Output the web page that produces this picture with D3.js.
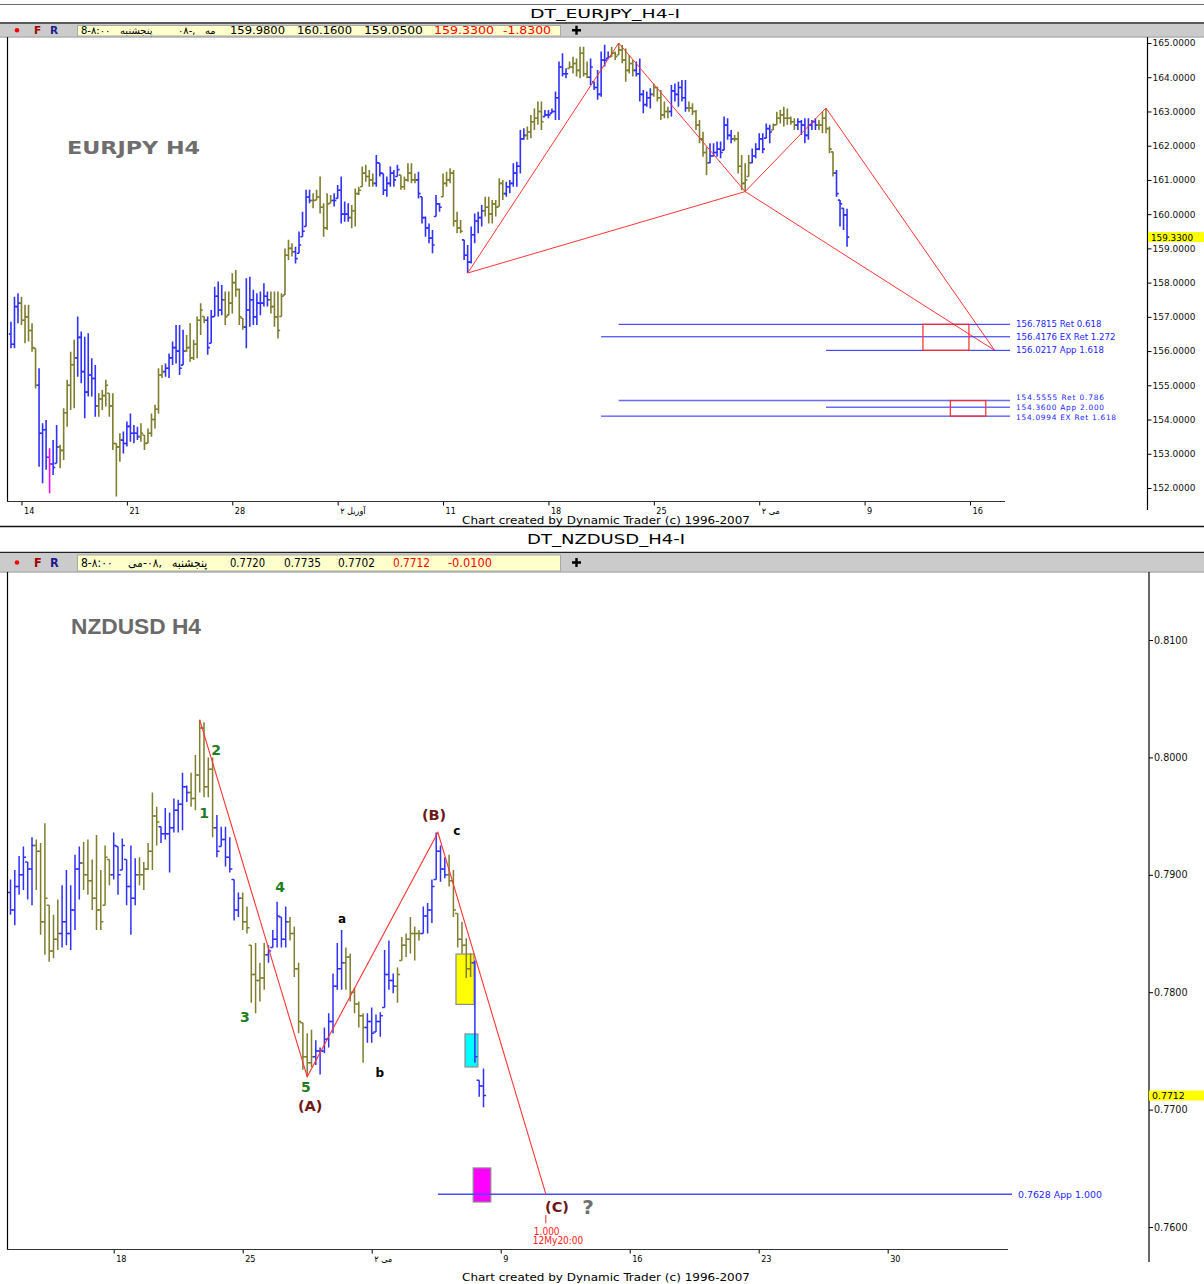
<!DOCTYPE html>
<html>
<head>
<meta charset="utf-8">
<script src="https://cdn.jsdelivr.net/npm/d3@7"></script>
<style>
  body { margin: 0; background: #fff; }
  svg { display: block; }
</style>
</head>
<body>
<script>
// ---------- EURJPY H4 (top panel) ----------
// bar colour codes: o = olive, b = blue, m = magenta
const eurColors = ('bbbooooobb bmbbooooob bbbbbooooo oobbbbbooo oooobbbbbb oooooobbbb boooooobbb bbbboooooo ' +
  'obbbbboooo oobbbbbooo oooobbbbbb booooobbbb bbboooooob bbbbbooooo obbbbbbooo oobbbbbbbo ooooobbbbb ' +
  'booooooobb bbbooooobb bbboooooob bbbbbboooo obbbbbbooo oooobbbbbb ooooobbbb').replace(/ /g, '');
const eurHigh = [
  156.86,157.59,157.69,157.59,157.35,157.35,156.81,156.08,155.50,153.89,
  153.99,153.16,153.40,153.84,153.26,154.33,155.16,155.98,156.33,157.01,
  156.57,156.42,156.52,155.79,155.59,154.77,154.86,155.16,154.77,154.77,
  153.31,153.60,153.65,153.94,154.18,153.84,153.79,153.89,153.55,153.74,
  154.18,154.43,155.50,155.59,155.64,155.93,156.28,156.76,156.76,156.62,
  156.47,156.81,156.33,157.01,157.40,157.01,157.01,157.20,157.88,158.03,
  157.93,157.74,157.74,158.27,158.37,157.83,156.96,158.13,158.17,157.79,
  157.69,157.74,157.98,157.74,157.74,157.74,157.74,157.69,159.00,159.25,
  159.15,159.05,159.49,160.07,160.71,160.71,160.61,160.71,161.10,160.32,
  160.61,160.56,160.61,160.85,161.10,160.37,160.32,160.27,160.75,160.80,
  161.39,161.44,161.29,161.19,161.73,161.49,161.19,161.10,161.39,161.29,
  161.44,161.14,161.10,161.49,161.49,161.19,161.24,160.51,159.93,159.73,
  159.54,160.56,160.32,161.19,161.24,161.34,161.29,160.07,159.83,159.25,
  159.10,159.64,160.02,160.07,160.27,160.51,160.51,160.41,160.41,161.05,
  161.00,160.95,161.00,161.49,161.53,162.46,162.51,162.56,162.90,163.09,
  163.29,163.29,163.04,163.04,163.09,163.58,164.46,164.70,164.26,164.46,
  164.60,164.55,164.89,164.89,164.46,164.55,163.87,164.21,164.75,164.95,
  164.75,164.89,164.75,165.00,164.94,164.84,164.65,164.50,164.46,164.55,
  163.63,163.58,163.68,163.82,163.72,163.63,163.29,163.14,163.77,163.82,
  163.87,163.92,163.92,163.29,163.24,163.04,162.75,162.41,161.97,162.07,
  162.07,162.12,162.12,162.85,162.80,162.46,162.31,162.41,161.73,161.49,
  161.73,161.92,162.07,162.36,162.36,162.65,162.61,162.65,162.99,163.04,
  163.14,163.09,162.85,162.80,162.80,162.75,162.80,162.80,162.75,162.80,
  162.75,162.99,163.10,162.56,161.82,161.29,160.41,160.17,160.16];
const eurLow = [
  156.08,156.08,156.81,156.76,156.23,156.28,155.98,154.91,152.62,152.14,
  152.53,151.85,152.38,152.72,152.58,152.82,153.79,154.28,154.33,155.25,
  155.06,154.04,154.67,154.67,154.08,154.08,154.28,154.38,154.08,153.11,
  151.75,152.77,153.01,153.21,153.35,153.31,153.40,153.35,153.11,153.31,
  153.50,153.74,154.18,155.21,155.25,155.21,155.59,155.64,155.30,155.59,
  155.98,155.69,155.74,155.79,156.47,156.81,155.89,156.23,157.01,157.01,
  157.05,156.76,157.05,157.10,157.59,156.76,156.62,156.08,156.71,156.76,
  156.76,157.05,157.30,157.30,157.10,156.71,156.37,157.01,157.64,158.66,
  158.76,158.56,158.86,159.34,159.64,160.32,160.17,160.41,160.02,159.34,
  159.54,160.32,160.22,160.46,159.73,159.78,159.78,159.59,159.64,160.56,
  160.80,160.95,160.80,160.80,160.80,161.10,160.56,160.51,160.80,160.80,
  161.10,160.71,160.71,160.95,160.90,160.90,160.46,159.73,159.34,159.15,
  158.86,159.93,160.07,160.51,160.80,160.90,159.64,159.44,159.44,158.66,
  158.28,158.56,159.15,159.44,159.64,159.93,159.73,159.73,159.93,160.22,
  160.41,160.51,160.61,160.80,160.80,161.19,162.17,162.17,162.22,162.46,
  162.61,162.46,162.85,162.80,162.95,162.75,162.75,164.02,163.97,164.26,
  164.11,164.02,163.97,164.02,163.97,163.77,163.63,163.34,163.43,164.31,
  164.55,164.60,164.50,164.65,164.41,163.87,164.11,164.02,164.02,163.29,
  162.95,163.14,163.09,163.43,163.29,162.75,162.80,162.80,162.85,163.29,
  163.14,163.29,162.99,162.99,162.90,162.46,162.07,161.68,161.14,161.49,
  161.68,161.68,161.63,161.87,162.17,162.07,162.12,161.19,160.70,160.66,
  161.10,161.49,161.63,161.87,161.78,162.22,162.07,162.46,162.61,162.65,
  162.56,162.61,162.61,162.46,162.46,162.31,162.07,162.17,162.46,162.46,
  162.46,162.36,162.36,161.78,161.10,160.51,159.64,159.54,159.05];
const eurClose = [
  156.2,157.3,157.4,156.9,157.0,156.6,156.1,155.0,153.6,153.7,
  152.9,152.7,152.6,153.2,153.1,154.2,155.0,155.6,155.8,156.4,
  155.4,154.8,155.3,155.2,154.4,154.6,154.7,155.0,154.4,153.3,
  153.2,153.4,153.3,153.8,153.6,153.6,153.5,153.6,153.3,153.6,
  154.0,154.3,155.3,155.4,155.5,155.8,156.1,156.0,155.5,156.0,
  156.1,155.8,156.2,156.9,157.2,156.9,156.1,157.0,157.6,157.2,
  157.5,157.0,157.4,158.0,157.8,157.0,156.7,157.2,157.5,157.0,
  157.4,157.4,157.6,157.5,157.3,157.0,156.6,157.6,158.8,159.0,
  158.9,158.7,159.1,159.5,160.5,160.4,160.4,160.5,160.2,159.6,
  160.3,160.4,160.4,160.7,160.0,160.0,159.9,160.1,160.6,160.7,
  161.2,161.1,161.0,160.9,161.5,161.2,160.7,160.9,161.2,161.0,
  161.3,160.8,161.0,161.2,161.0,161.0,160.6,159.9,159.6,159.3,
  159.1,160.3,160.2,160.9,161.0,161.2,159.8,159.6,159.5,158.8,
  158.6,159.4,159.8,159.9,160.1,160.2,160.0,160.3,160.2,160.9,
  160.6,160.8,160.9,161.2,161.4,162.2,162.3,162.4,162.7,162.8,
  163.0,162.7,162.9,162.9,163.0,163.4,164.3,164.1,164.1,164.3,
  164.4,164.2,164.7,164.1,164.0,164.3,163.7,163.5,164.5,164.5,
  164.6,164.7,164.6,164.8,164.5,164.2,164.4,164.2,164.1,163.5,
  163.2,163.4,163.5,163.7,163.4,162.9,163.0,163.0,163.6,163.5,
  163.7,163.4,163.1,163.1,163.0,162.6,162.2,161.8,161.5,161.7,
  161.8,161.9,161.8,162.6,162.3,162.2,162.2,161.4,160.9,161.0,
  161.5,161.7,161.9,162.2,161.9,162.5,162.4,162.6,162.8,162.9,
  162.8,162.8,162.7,162.6,162.7,162.6,162.3,162.6,162.7,162.6,
  162.6,162.8,162.5,161.9,161.2,160.6,160.3,159.98,159.33];
const eurFirstOpen = 156.5;
const eurTickIdx = [3, 33, 63, 93, 123, 153, 183, 213, 243, 273];
const eurTickLabels = ['14', '21', '28', 'آوریل ۲', '11', '18', '25', 'مى ۲', '9', '16'];
const eurYTicks = d3.range(152, 166);
const eurQuote = ['159.9800', '160.1600', '159.0500', '159.3300', '-1.8300'];
const eurLast = 159.33;
// X, A, B, C, D pivots (bar index, price)
const eurPivotIdx = [130, 173, 209, 232, 280];
const eurPivotVal = [158.28, 165.00, 160.66, 163.10, 156.0217];
const eurLegs = [[0, 1], [1, 2], [0, 2], [2, 3], [3, 4], [2, 4]];
const eurLevels = [156.7815, 156.4176, 156.0217, 154.5555, 154.3600, 154.0994];
const eurLevelText = ['156.7815 Ret 0.618', '156.4176 EX Ret 1.272', '156.0217 App 1.618',
  '154.5555 Ret 0.786', '154.3600 App 2.000', '154.0994 EX Ret 1.618'];
const eurLevelFrom = [173, 168, 232, 173, 232, 168];
const eurLevelTo = 284.4;
const eurBoxFrom = [259.6, 267.4];
const eurBoxTo = [272.7, 277.5];
const eurBoxHi = [156.7815, 154.5555];
const eurBoxLo = [156.0217, 154.0994];

// ---------- NZDUSD H4 (bottom panel) ----------
const nzdColors = ('bbbbbboooo oobbbbbooo oooobbbbbb ooooobbbbb bboooooobb bbbboooooo bbbbbooooo ' +
  'obbbbbbboo ooobbbbbbb oooooobbbb bboooooobbb').replace(/ /g, '');
const nzdHigh = [
  0.7896,0.7904,0.7916,0.7924,0.7911,0.7932,0.7930,0.7927,0.7944,0.7874,
  0.7866,0.7879,0.7891,0.7904,0.7891,0.7917,0.7924,0.7928,0.7930,0.7913,
  0.7934,0.7904,0.7925,0.7913,0.7936,0.7924,0.7931,0.7913,0.7925,0.7914,
  0.7915,0.7911,0.7927,0.7970,0.7958,0.7941,0.7957,0.7953,0.7965,0.7964,
  0.7987,0.7976,0.7987,0.8002,0.8032,0.8030,0.8000,0.8000,0.7951,0.7941,
  0.7941,0.7932,0.7896,0.7885,0.7885,0.7873,0.7840,0.7842,0.7825,0.7842,
  0.7840,0.7853,0.7877,0.7864,0.7873,0.7864,0.7856,0.7825,0.7774,0.7765,
  0.7768,0.7759,0.7753,0.7770,0.7782,0.7816,0.7842,0.7853,0.7838,0.7833,
  0.7804,0.7792,0.7782,0.7782,0.7787,0.7781,0.7783,0.7836,0.7844,0.7816,
  0.7821,0.7847,0.7850,0.7864,0.7856,0.7853,0.7873,0.7876,0.7896,0.7936,
  0.7925,0.7915,0.7917,0.7904,0.7867,0.7860,0.7846,0.7833,0.7827,0.7725,0.7735];
const nzdLow = [
  0.7866,0.7857,0.7883,0.7887,0.7879,0.7874,0.7887,0.7849,0.7832,0.7826,
  0.7829,0.7836,0.7838,0.7840,0.7836,0.7853,0.7879,0.7887,0.7883,0.7870,
  0.7853,0.7853,0.7874,0.7891,0.7896,0.7883,0.7904,0.7874,0.7849,0.7874,
  0.7891,0.7887,0.7904,0.7904,0.7925,0.7927,0.7930,0.7902,0.7936,0.7936,
  0.7938,0.7962,0.7958,0.7955,0.7970,0.7966,0.7966,0.7932,0.7915,0.7924,
  0.7907,0.7902,0.7861,0.7864,0.7853,0.7850,0.7791,0.7782,0.7792,0.7802,
  0.7825,0.7838,0.7838,0.7838,0.7838,0.7844,0.7813,0.7765,0.7734,0.7728,
  0.7736,0.7738,0.7730,0.7748,0.7753,0.7765,0.7802,0.7802,0.7802,0.7792,
  0.7782,0.7770,0.7740,0.7757,0.7757,0.7766,0.7762,0.7787,0.7802,0.7799,
  0.7791,0.7827,0.7830,0.7833,0.7827,0.7844,0.7850,0.7850,0.7859,0.7896,
  0.7894,0.7897,0.7890,0.7864,0.7838,0.7833,0.7812,0.7813,0.7740,0.7711,0.7702];
const nzdClose = [
  0.7870,0.7890,0.7900,0.7915,0.7905,0.7925,0.7920,0.7860,0.7880,0.7835,
  0.7845,0.7850,0.7860,0.7850,0.7870,0.7905,0.7910,0.7900,0.7895,0.7880,
  0.7870,0.7860,0.7915,0.7900,0.7925,0.7900,0.7925,0.7890,0.7880,0.7900,
  0.7900,0.7905,0.7920,0.7950,0.7945,0.7935,0.7935,0.7940,0.7955,0.7960,
  0.7975,0.7970,0.7965,0.7985,0.8025,0.7975,0.7990,0.7940,0.7920,0.7930,
  0.7915,0.7905,0.7870,0.7880,0.7860,0.7855,0.7815,0.7810,0.7812,0.7832,
  0.7835,0.7845,0.7865,0.7845,0.7860,0.7850,0.7820,0.7775,0.7745,0.7740,
  0.7745,0.7750,0.7750,0.7760,0.7775,0.7805,0.7820,0.7825,0.7830,0.7800,
  0.7790,0.7780,0.7770,0.7775,0.7765,0.7775,0.7780,0.7815,0.7810,0.7805,
  0.7815,0.7840,0.7845,0.7850,0.7850,0.7850,0.7865,0.7870,0.7890,0.7920,
  0.7905,0.7900,0.7895,0.7870,0.7845,0.7840,0.7820,0.7825,0.7745,0.7720,0.7712];
const nzdFirstOpen = 0.7885;
const nzdTickIdx = [24, 54, 84, 114, 144, 174, 204];
const nzdTickLabels = ['18', '25', 'مى ۲', '9', '16', '23', '30'];
const nzdYTicks = [0.76, 0.77, 0.78, 0.79, 0.80, 0.81];
const nzdQuote = ['0.7720', '0.7735', '0.7702', '0.7712', '-0.0100'];
const nzdLast = 0.7712;
const nzdPivotIdx = [44, 69, 99.4, 124.5];
const nzdPivotVal = [0.8032, 0.7728, 0.7936, 0.7628];
const nzdLevel = 0.7628;
const nzdLevelText = '0.7628 App 1.000';
const nzdLevelFrom = 99.4;
const nzdLevelTo = 232.9;
const nzdBoxFrom = [103.6, 105.7, 107.6];
const nzdBoxTo = [107.8, 108.7, 111.7];
const nzdBoxHi = [0.78325, 0.77644, 0.76503];
const nzdBoxLo = [0.77896, 0.77363, 0.76213];
const nzdBoxFill = ['#ffff00', '#00ffff', '#ff00ff'];
const nzdWaveText = ['1', '2', '3', '4', '5', '(A)', '(B)', '(C)', 'a', 'b', 'c', '?'];
const nzdWaveIdx = [45.0, 47.8, 54.5, 62.7, 68.7, 69.7, 98.5, 127.1, 77.1, 85.9, 103.8, 134.3];
const nzdWaveVal = [0.79526, 0.80063, 0.77789, 0.78896, 0.77192, 0.77031, 0.79509, 0.76170, 0.78624, 0.77312, 0.79373, 0.76170];
const nzdWaveKind = ['g', 'g', 'g', 'g', 'g', 'r', 'r', 'r', 'k', 'k', 'k', 'q'];

// ---------- drawing ----------
const FONT = '"DejaVu Sans", Verdana, sans-serif';
const NARROW = '"DejaVu Sans Condensed", "Liberation Sans Narrow", "Liberation Sans", sans-serif';
const barColor = { o: '#7e7e2e', b: '#3030ff', m: '#ff00ff' };

const svg = d3.select('body').append('svg').attr('width', 1204).attr('height', 1284);

function hline(x1, x2, y, stroke, w) {
  svg.append('line').attr('x1', x1).attr('x2', x2).attr('y1', y).attr('y2', y)
    .attr('stroke', stroke).attr('stroke-width', w || 1);
}
function vline(x, y1, y2, stroke, w) {
  svg.append('line').attr('x1', x).attr('x2', x).attr('y1', y1).attr('y2', y2)
    .attr('stroke', stroke).attr('stroke-width', w || 1);
}

function toolbar(y0, h, quote, quoteX, quoteW, datePieces, font, size) {
  const cy = y0 + h / 2;
  svg.append('rect').attr('x', 0).attr('y', y0).attr('width', 1204).attr('height', h).attr('fill', '#cbcbcb');
  hline(0, 1204, y0 + h + 0.5, '#8a8a8a');
  svg.append('circle').attr('cx', 17).attr('cy', cy).attr('r', 2.3).attr('fill', '#ff0000');
  svg.append('text').attr('x', 34).attr('y', cy + size * 0.36).text('F')
    .attr('font-family', font).attr('font-size', size).attr('font-weight', 'bold').attr('fill', '#a00000');
  svg.append('text').attr('x', 50).attr('y', cy + size * 0.36).text('R')
    .attr('font-family', font).attr('font-size', size).attr('font-weight', 'bold').attr('fill', '#1c1c8c');
  svg.append('rect').attr('x', 77.5).attr('y', y0 + 1.5).attr('width', 483).attr('height', h - 2)
    .attr('fill', '#ffffcc').attr('stroke', '#a8a8a8');
  datePieces.forEach(p => {
    svg.append('text').attr('x', p[1]).attr('y', cy + size * 0.36).text(p[0])
      .attr('font-family', font).attr('font-size', size - 0.5).attr('fill', '#000');
  });
  quote.forEach((q, i) => {
    svg.append('text').attr('x', quoteX[i]).attr('y', cy + size * 0.36).text(q)
      .attr('font-family', font).attr('font-size', size)
      .attr('textLength', quoteW[i]).attr('lengthAdjust', 'spacingAndGlyphs')
      .attr('fill', i >= 3 ? '#ff0000' : '#000');
  });
  svg.append('path').attr('d', `M572,${cy}H581M576.5,${cy - 4.5}V${cy + 4.5}`)
    .attr('stroke', '#000').attr('stroke-width', 2.4);
}

function drawBars(x, y, hi, lo, cl, cols, firstOpen, tick, sw) {
  const bars = hi.map((h, i) => {
    const prev = i ? cl[i - 1] : firstOpen;
    return { i, h, l: lo[i], c: cl[i], o: Math.max(lo[i], Math.min(h, prev)), col: cols[i] };
  });
  svg.append('g').selectAll('path').data(bars).join('path')
    .attr('d', d => {
      const xx = x(d.i);
      return `M${xx},${y(d.h)}V${y(d.l)}M${xx - tick},${y(d.o)}H${xx}M${xx},${y(d.c)}H${xx + tick}`;
    })
    .attr('fill', 'none')
    .attr('stroke', d => barColor[d.col])
    .attr('stroke-width', sw);
}

function yAxis(xPos, scale, ticks, fmt, size, y1, y2) {
  const g = svg.append('g').attr('transform', `translate(${xPos},0)`)
    .call(d3.axisRight(scale).tickValues(ticks).tickSize(4).tickPadding(1).tickFormat(fmt));
  g.select('.domain').remove();
  g.selectAll('line').attr('stroke', '#000');
  g.selectAll('text').attr('font-family', FONT).attr('font-size', size).attr('fill', '#111');
  vline(xPos, y1, y2, '#000', 1.2);
}

function xAxis(yPos, scale, ticks, labels, x1, x2) {
  const g = svg.append('g').attr('transform', `translate(0,${yPos})`)
    .call(d3.axisBottom(scale).tickValues(ticks).tickSize(4).tickPadding(2)
      .tickFormat((d, i) => labels[i]));
  g.select('.domain').remove();
  g.selectAll('line').attr('stroke', '#000');
  g.selectAll('text').attr('text-anchor', 'start').attr('dx', 2)
    .attr('font-family', NARROW).attr('font-size', 9).attr('fill', '#000');
  hline(x1, x2, yPos, '#333', 1.2);
}

function priceFlag(xPos, y, label, size) {
  svg.append('rect').attr('x', xPos).attr('y', y - 5).attr('width', 1204 - xPos).attr('height', 10).attr('fill', '#ffff00');
  svg.append('text').attr('x', xPos + 3).attr('y', y + 3.5).text(label)
    .attr('font-family', FONT).attr('font-size', size).attr('fill', '#000');
}

// ===== top panel =====
const xE = d3.scaleLinear().domain([3, 273]).range([21.5, 970]);
const yE = d3.scaleLinear().domain([152, 165]).range([488, 43]);

hline(0, 1204, 4.5, '#6a6a6a');
svg.append('text').attr('x', 605).attr('y', 18).attr('text-anchor', 'middle').text('DT_EURJPY_H4-I')
  .attr('font-family', FONT).attr('font-size', 13).attr('fill', '#000')
  .attr('textLength', 150).attr('lengthAdjust', 'spacingAndGlyphs');
hline(0, 1204, 23, '#222', 1.5);
toolbar(24, 12.5, eurQuote, [230, 297, 364, 434, 503], [55, 55, 59, 60, 48],
  [['8-۸:۰۰', 81], ['پنجشنبه', 120], ['۰۸-,', 178], ['مه', 205]], FONT, 10.5);

vline(7.5, 37, 501, '#000', 1.2);
yAxis(1147.5, yE, eurYTicks, d3.format('.4f'), 9, 37, 510);
xAxis(501.5, xE, eurTickIdx, eurTickLabels, 7, 1005);

svg.append('text').attr('x', 67).attr('y', 154).text('EURJPY  H4')
  .attr('font-family', FONT).attr('font-weight', 'bold').attr('font-size', 17).attr('fill', '#6e6e6e')
  .attr('textLength', 133).attr('lengthAdjust', 'spacingAndGlyphs');

drawBars(xE, yE, eurHigh, eurLow, eurClose, eurColors, eurFirstOpen, 2.2, 1.6);

// pattern legs
eurLegs.forEach(([a, b]) => {
  svg.append('line')
    .attr('x1', xE(eurPivotIdx[a])).attr('y1', yE(eurPivotVal[a]))
    .attr('x2', xE(eurPivotIdx[b])).attr('y2', yE(eurPivotVal[b]))
    .attr('stroke', '#ff3535').attr('stroke-width', 1);
});

// projection levels; the three crowded lower labels are made smaller and spread a little
const levelNudge = [0, 0, 0, -3.2, -0.8, 0.6];
eurLevels.forEach((v, i) => {
  const light = i === 3 || i === 4;
  const small = i >= 3;
  hline(xE(eurLevelFrom[i]), xE(eurLevelTo), yE(v), light ? '#6a6aff' : '#2424ff', light ? 1.4 : 1);
  svg.append('text').attr('x', xE(eurLevelTo) + 6).attr('y', yE(v) + 3.1 + levelNudge[i]).text(eurLevelText[i])
    .attr('font-family', FONT).attr('font-size', small ? 7.4 : 8.6).attr('fill', '#2424ff')
    .attr('textLength', small ? (i === 5 ? 100 : 88) : null);
});
eurBoxFrom.forEach((f, i) => {
  svg.append('rect').attr('x', xE(f)).attr('y', yE(eurBoxHi[i]))
    .attr('width', xE(eurBoxTo[i]) - xE(f)).attr('height', yE(eurBoxLo[i]) - yE(eurBoxHi[i]))
    .attr('fill', 'none').attr('stroke', '#ff2a2a').attr('stroke-width', 1.2);
});

priceFlag(1148, yE(eurLast), eurLast.toFixed(4), 8.8);

svg.append('text').attr('x', 462).attr('y', 524).text('Chart created by Dynamic Trader  (c) 1996-2007')
  .attr('font-family', NARROW).attr('font-size', 10).attr('fill', '#000')
  .attr('textLength', 288).attr('lengthAdjust', 'spacingAndGlyphs');

// ===== bottom panel =====
const xN = d3.scaleLinear().domain([24, 204]).range([113.7, 887.7]);
const yN = d3.scaleLinear().domain([0.76, 0.81]).range([1227, 640]);

hline(0, 1204, 526.5, '#111', 1.6);
svg.append('text').attr('x', 606).attr('y', 544).attr('text-anchor', 'middle').text('DT_NZDUSD_H4-I')
  .attr('font-family', FONT).attr('font-size', 14.5).attr('fill', '#000')
  .attr('textLength', 158).attr('lengthAdjust', 'spacingAndGlyphs');
hline(0, 1204, 552.5, '#222', 1.5);
toolbar(553.5, 18, nzdQuote, [230, 284, 338, 393, 448], [35, 37, 37, 37, 44],
  [['8-۸:۰۰', 81], ['مى', 128], ['-۰۸,', 143], ['پنجشنبه', 172]], NARROW, 12.5);

vline(7.5, 572, 1250, '#000', 1.2);
yAxis(1149, yN, nzdYTicks, d3.format('.4f'), 9.6, 572, 1262);
xAxis(1249.5, xN, nzdTickIdx, nzdTickLabels, 7, 1008);

svg.append('text').attr('x', 71).attr('y', 634).text('NZDUSD H4')
  .attr('font-family', '"Liberation Sans", Arial, sans-serif').attr('font-weight', 'bold')
  .attr('font-size', 22).attr('fill', '#6a6a6a')
  .attr('textLength', 130).attr('lengthAdjust', 'spacingAndGlyphs');

// boxes behind bars
nzdBoxFrom.forEach((f, i) => {
  svg.append('rect').attr('x', xN(f)).attr('y', yN(nzdBoxHi[i]))
    .attr('width', xN(nzdBoxTo[i]) - xN(f)).attr('height', yN(nzdBoxLo[i]) - yN(nzdBoxHi[i]))
    .attr('fill', nzdBoxFill[i]).attr('stroke', '#8c8c8c').attr('stroke-width', 1.2);
});

drawBars(xN, yN, nzdHigh, nzdLow, nzdClose, nzdColors, nzdFirstOpen, 2.6, 1.5);

hline(xN(nzdLevelFrom), xN(nzdLevelTo), yN(nzdLevel), '#4a4aff', 1.5);
svg.append('text').attr('x', xN(nzdLevelTo) + 6).attr('y', yN(nzdLevel) + 3.5).text(nzdLevelText)
  .attr('font-family', FONT).attr('font-size', 9.4).attr('fill', '#2424ff');

svg.append('path')
  .attr('d', d3.line().x(d => xN(d[0])).y(d => yN(d[1]))(nzdPivotIdx.map((v, i) => [v, nzdPivotVal[i]])))
  .attr('fill', 'none').attr('stroke', '#ff3535').attr('stroke-width', 1.1);

// target note under (C)
const cx = xN(nzdPivotIdx[3]), cyC = yN(nzdPivotVal[3]);
vline(cx, cyC + 21, cyC + 29, '#ff2020', 1);
svg.append('text').attr('x', cx - 12).attr('y', cyC + 41).text('1.000')
  .attr('font-family', NARROW).attr('font-size', 10).attr('fill', '#ff2020');
svg.append('text').attr('x', cx - 13).attr('y', cyC + 50).text('12My20:00')
  .attr('font-family', NARROW).attr('font-size', 10).attr('fill', '#ff2020');

const waveStyle = {
  g: { fill: '#1f7d1f', size: 14 },
  r: { fill: '#6e1818', size: 14.5 },
  k: { fill: '#000', size: 12 },
  q: { fill: '#707070', size: 20 }
};
nzdWaveText.forEach((t, i) => {
  const s = waveStyle[nzdWaveKind[i]];
  svg.append('text').attr('x', xN(nzdWaveIdx[i])).attr('y', yN(nzdWaveVal[i]))
    .attr('text-anchor', 'middle').attr('dominant-baseline', 'central').text(t)
    .attr('font-family', FONT).attr('font-weight', 'bold').attr('font-size', s.size).attr('fill', s.fill);
});

priceFlag(1149, yN(nzdLast), nzdLast.toFixed(4), 9.4);

svg.append('text').attr('x', 462).attr('y', 1281).text('Chart created by Dynamic Trader  (c) 1996-2007')
  .attr('font-family', NARROW).attr('font-size', 10.5).attr('fill', '#000')
  .attr('textLength', 288).attr('lengthAdjust', 'spacingAndGlyphs');
</script>
</body>
</html>
